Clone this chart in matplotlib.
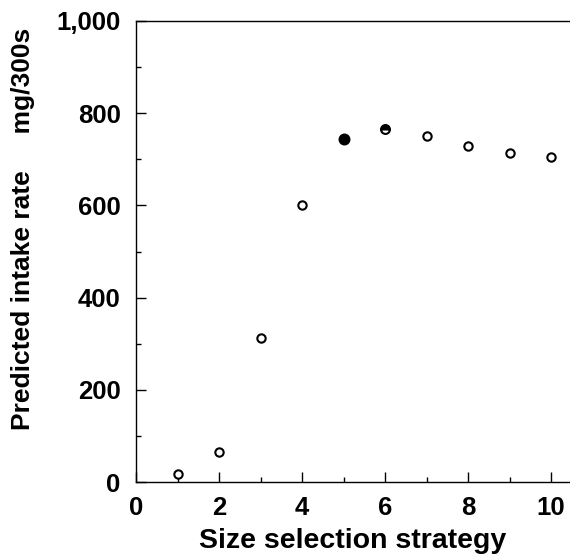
import matplotlib
matplotlib.use("Agg")
import matplotlib.pyplot as plt
from matplotlib.ticker import MultipleLocator, FuncFormatter

strategy = [1, 2, 3, 4, 5, 6, 7, 8, 9, 10]
intake = [17, 65, 312, 601, 744, 766, 751, 729, 714, 705]
fill = ['open', 'open', 'open', 'open', 'full', 'top', 'open', 'open', 'open', 'open']

plt.rcParams['font.family'] = ['Liberation Sans', 'DejaVu Sans']
plt.rcParams['font.weight'] = 'bold'

W, H = 570, 558
fig = plt.figure(figsize=(W / 100, H / 100), dpi=100)
left_px, right_px, top_px, bottom_px = 136, 570, 21, 482
ax = fig.add_axes([left_px / W, 1 - bottom_px / H,
                   (right_px - left_px) / W, (bottom_px - top_px) / H])

for x, y, f in zip(strategy, intake, fill):
    if f == 'open':
        ax.plot([x], [y], marker='o', linestyle='none', markersize=6.0,
                markeredgewidth=1.5, markeredgecolor='black',
                markerfacecolor='white')
    elif f == 'full':
        ax.plot([x], [y], marker='o', linestyle='none', markersize=7.6,
                markeredgewidth=1.0, markeredgecolor='black',
                markerfacecolor='black')
    else:
        ax.plot([x], [y], marker='o', linestyle='none', markersize=6.4,
                markeredgewidth=1.5, markeredgecolor='black',
                markerfacecolor='black', fillstyle=f,
                markerfacecoloralt='white')

ax.set_xlim(0, (right_px - left_px) / 41.5)
ax.set_ylim(0, 1000)
ax.spines['right'].set_visible(False)
ax.xaxis.set_major_locator(MultipleLocator(2))
ax.xaxis.set_minor_locator(MultipleLocator(1))
ax.yaxis.set_major_locator(MultipleLocator(200))
ax.yaxis.set_minor_locator(MultipleLocator(100))
ax.yaxis.set_major_formatter(FuncFormatter(lambda v, p: f"{int(v):,}"))
ax.tick_params(axis='both', which='major', direction='in', length=7, width=1.0,
               labelsize=18.5)
ax.tick_params(axis='both', which='minor', direction='in', length=3.6, width=1.0)
ax.tick_params(axis='x', which='major', pad=10)
ax.tick_params(axis='y', which='major', pad=11)
ax.tick_params(right=False, which='both')
for lab in ax.get_xticklabels() + ax.get_yticklabels():
    lab.set_fontweight('bold')
for s in ax.spines.values():
    s.set_linewidth(1.0)

ax.set_xlabel('Size selection strategy', fontsize=20.5, fontweight='bold', labelpad=6)
ax.set_ylabel('Predicted intake rate     mg/300s', fontsize=19,
              fontweight='bold', va='center')
ax.yaxis.set_label_coords((23 - left_px) / (right_px - left_px),
                          (bottom_px - 229) / (bottom_px - top_px))

fig.savefig('out.png', dpi=100)
